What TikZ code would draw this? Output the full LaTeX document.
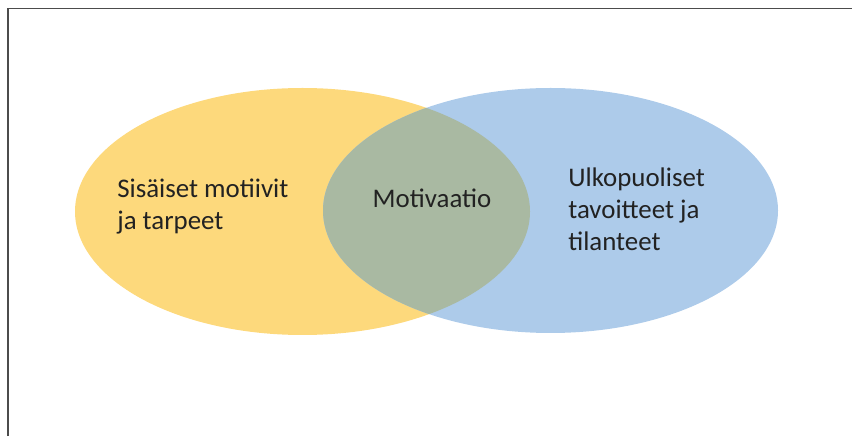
\documentclass[tikz,border=0pt]{standalone}
\usepackage{fontspec}
\setmainfont{Carlito}
\usepackage{tikz}
\usetikzlibrary{positioning}
\definecolor{sisyellow}{HTML}{FDD97C}
\definecolor{ulkblue}{HTML}{ADCBEA}
\definecolor{motgreen}{HTML}{A9B9A2}
\definecolor{labeltext}{HTML}{222222}
\tikzset{label text/.style={text=labeltext, inner sep=0pt, align=left,
    font=\fontsize{15.3}{18.4}\selectfont}}

\begin{document}
\begin{tikzpicture}
\useasboundingbox (0,0) rectangle (17.04,8.72);

\draw[line width=1pt, black!70] (0.16,0)--(0.16,8.55)--(17.04,8.55);

\fill[sisyellow] (6.05,4.49) ellipse [x radius=4.55, y radius=2.47];
\fill[ulkblue] (11.01,4.51) ellipse [x radius=4.55, y radius=2.45];
\begin{scope}
\clip (6.05,4.49) ellipse [x radius=4.55, y radius=2.47];
\fill[motgreen] (11.01,4.51) ellipse [x radius=4.55, y radius=2.45];
\end{scope}

% multi-line nodes: base is the last line
\node[label text, anchor=base west] (sis) at (2.34,4.12) {Sisäiset motiivit\\ja tarpeet};
\node[label text, anchor=base] (mot) at (8.64,4.56) {Motivaatio};
\node[label text, anchor=base west] (ulk) at (11.36,3.70) {Ulkopuoliset\\tavoitteet ja\\tilanteet};

\end{tikzpicture}
\end{document}
